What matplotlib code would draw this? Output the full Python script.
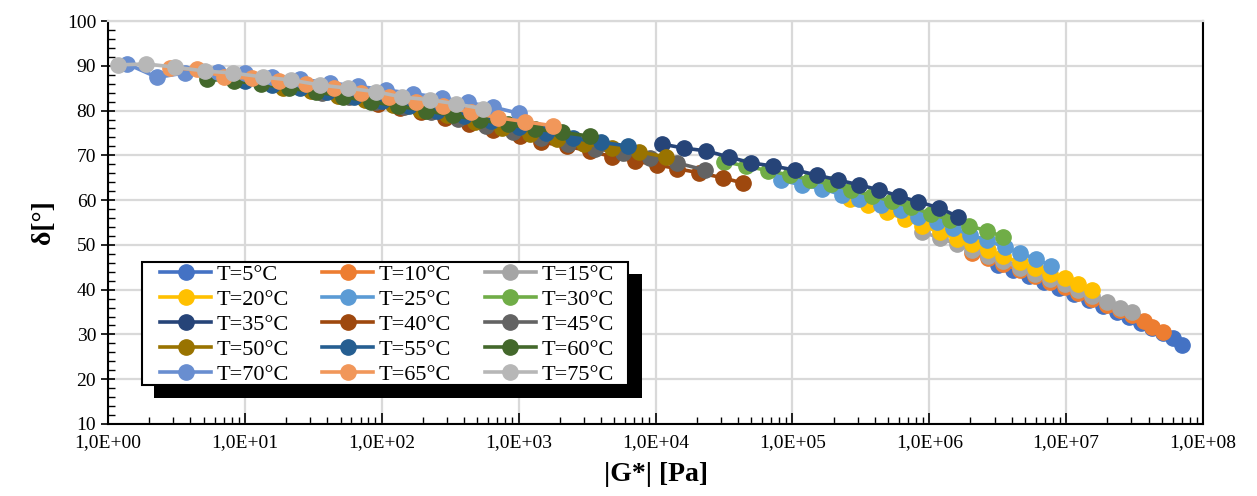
import matplotlib
matplotlib.use("Agg")
import matplotlib.pyplot as plt
from matplotlib.patches import Rectangle
from matplotlib.ticker import FuncFormatter, LogLocator, MultipleLocator
import numpy as np

plt.rcParams['font.family'] = ['Liberation Serif', 'DejaVu Serif']

# log10(|G*|) and phase angle for every temperature
lg_5 = [6.50, 6.61, 6.73, 6.84, 6.95, 7.06, 7.17, 7.27, 7.37, 7.46, 7.55, 7.63, 7.71, 7.78, 7.85]
d_5 = [45.6, 44.3, 43.0, 41.7, 40.4, 39.0, 37.7, 36.4, 35.1, 33.9, 32.6, 31.4, 30.3, 29.2, 27.7]

lg_10 = [6.31, 6.43, 6.54, 6.66, 6.77, 6.88, 6.99, 7.09, 7.19, 7.30, 7.39, 7.48, 7.57, 7.63, 7.71]
d_10 = [48.3, 47.0, 45.7, 44.4, 43.1, 41.8, 40.5, 39.2, 37.9, 36.6, 35.4, 34.3, 33.0, 31.7, 30.6]

lg_15 = [5.95, 6.08, 6.20, 6.31, 6.43, 6.54, 6.66, 6.77, 6.88, 6.99, 7.09, 7.19, 7.30, 7.39, 7.48]
d_15 = [52.9, 51.5, 50.2, 48.9, 47.6, 46.3, 44.9, 43.6, 42.4, 41.2, 39.9, 38.6, 37.3, 35.9, 35.0]

lg_20 = [5.42, 5.55, 5.69, 5.82, 5.95, 6.08, 6.20, 6.31, 6.43, 6.54, 6.66, 6.77, 6.88, 6.99, 7.09, 7.19]
d_20 = [60.2, 58.9, 57.3, 55.8, 54.3, 52.8, 51.4, 50.1, 48.8, 47.5, 46.1, 44.9, 43.6, 42.5, 41.3, 40.0]

lg_25 = [4.92, 5.07, 5.22, 5.36, 5.49, 5.65, 5.79, 5.92, 6.06, 6.17, 6.30, 6.42, 6.55, 6.66, 6.78, 6.89]
d_25 = [64.4, 63.4, 62.5, 61.2, 60.3, 58.9, 57.8, 56.3, 55.1, 53.8, 52.2, 51.1, 49.5, 48.2, 46.9, 45.3]

lg_30 = [4.50, 4.66, 4.82, 4.98, 5.13, 5.28, 5.43, 5.58, 5.73, 5.87, 6.01, 6.15, 6.29, 6.42, 6.54]
d_30 = [68.6, 67.6, 66.6, 65.6, 64.6, 63.5, 62.3, 61.0, 59.7, 58.4, 57.0, 55.6, 54.2, 53.2, 51.8]

lg_35 = [4.05, 4.21, 4.37, 4.54, 4.70, 4.86, 5.02, 5.18, 5.33, 5.49, 5.63, 5.78, 5.92, 6.07, 6.21]
d_35 = [72.5, 71.6, 71.0, 69.6, 68.3, 67.6, 66.7, 65.6, 64.5, 63.4, 62.3, 60.9, 59.6, 58.3, 56.3]

lg_40 = [1.97, 2.13, 2.29, 2.46, 2.64, 2.81, 3.01, 3.16, 3.35, 3.52, 3.68, 3.85, 4.01, 4.16, 4.32, 4.49, 4.64]
d_40 = [81.4, 80.5, 79.6, 78.3, 77.0, 75.6, 74.3, 73.0, 72.0, 71.0, 69.7, 68.7, 67.9, 67.0, 66.1, 65.0, 63.8]

lg_45 = [1.56, 1.76, 1.96, 2.16, 2.36, 2.56, 2.76, 2.96, 3.16, 3.36, 3.56, 3.76, 3.96, 4.16, 4.36]
d_45 = [83.9, 83.0, 81.9, 80.9, 79.7, 78.2, 76.6, 75.2, 73.8, 72.6, 71.5, 70.5, 69.5, 68.3, 66.7]

lg_50 = [1.28, 1.48, 1.68, 1.88, 2.08, 2.28, 2.48, 2.68, 2.88, 3.08, 3.28, 3.48, 3.68, 3.88, 4.08]
d_50 = [85.0, 84.3, 83.3, 82.3, 81.3, 80.2, 78.9, 77.5, 76.1, 74.8, 73.6, 72.6, 71.7, 70.8, 69.6]

lg_55 = [1.00, 1.20, 1.40, 1.60, 1.80, 2.00, 2.20, 2.40, 2.60, 2.80, 3.00, 3.20, 3.40, 3.60, 3.80]
d_55 = [86.5, 85.8, 85.0, 84.1, 83.1, 82.1, 81.1, 80.0, 78.8, 77.6, 76.3, 75.0, 73.8, 72.9, 72.1]

lg_60 = [0.72, 0.92, 1.12, 1.32, 1.52, 1.72, 1.92, 2.12, 2.32, 2.52, 2.72, 2.92, 3.12, 3.32, 3.52]
d_60 = [87.0, 86.6, 85.9, 85.0, 84.2, 83.1, 82.0, 81.0, 80.0, 78.9, 77.9, 76.9, 75.9, 75.1, 74.3]

lg_70 = [0.14, 0.36, 0.56, 0.80, 1.00, 1.20, 1.40, 1.62, 1.83, 2.03, 2.23, 2.44, 2.63, 2.81, 3.00]
d_70 = [90.4, 87.4, 88.4, 88.6, 88.3, 87.5, 87.0, 86.2, 85.4, 84.6, 83.8, 82.8, 81.8, 80.8, 79.4]

lg_65 = [0.45, 0.65, 0.85, 1.05, 1.25, 1.45, 1.65, 1.85, 2.05, 2.25, 2.45, 2.65, 2.85, 3.05, 3.25]
d_65 = [89.5, 89.2, 87.6, 87.2, 86.7, 86.0, 85.0, 84.0, 83.0, 81.9, 81.0, 79.6, 78.4, 77.5, 76.6]

lg_75 = [0.07, 0.28, 0.49, 0.71, 0.91, 1.13, 1.34, 1.55, 1.75, 1.96, 2.15, 2.35, 2.54, 2.74]
d_75 = [90.2, 90.4, 89.7, 88.8, 88.4, 87.5, 86.8, 85.7, 85.0, 84.2, 83.0, 82.4, 81.5, 80.4]

labels = ['T=5°C', 'T=10°C', 'T=15°C', 'T=20°C', 'T=25°C', 'T=30°C', 'T=35°C', 'T=40°C',
          'T=45°C', 'T=50°C', 'T=55°C', 'T=60°C', 'T=70°C', 'T=65°C', 'T=75°C']
series_lg = [lg_5, lg_10, lg_15, lg_20, lg_25, lg_30, lg_35, lg_40,
             lg_45, lg_50, lg_55, lg_60, lg_70, lg_65, lg_75]
series_d = [d_5, d_10, d_15, d_20, d_25, d_30, d_35, d_40,
            d_45, d_50, d_55, d_60, d_70, d_65, d_75]
colors = ['#4472C4', '#ED7D31', '#A5A5A5', '#FFC000', '#5B9BD5', '#70AD47', '#264478', '#9E480E',
          '#636363', '#997300', '#255E91', '#43682B', '#698ED0', '#F1975A', '#B7B7B7']
decades = np.arange(0, 9)

W, H = 1257, 496
fig = plt.figure(figsize=(W / 100, H / 100), dpi=100)
ax = fig.add_axes([108 / W, 1 - 424 / H, (1203 - 108) / W, (424 - 21) / H])

handles = []
for lg, d, c, lab in zip(series_lg, series_d, colors, labels):
    h, = ax.plot(10 ** np.array(lg), d, '-o', color=c, lw=2.6, ms=11, label=lab)
    handles.append(h)

ax.set_xscale('log')
ax.set_xlim(1, 1e8)
ax.set_ylim(10, 100)

# grid + ticks like the excel chart
ax.grid(True, which='major', color='#D9D9D9', lw=1.6)
ax.set_axisbelow(True)
ax.yaxis.set_major_locator(MultipleLocator(10))
ax.yaxis.set_minor_locator(MultipleLocator(2))
ax.set_xticks(10.0 ** decades)
ax.set_xticklabels(['1,0E+%02d' % k for k in decades])
ax.xaxis.set_minor_locator(LogLocator(base=10, subs=np.arange(2, 10), numticks=20))
ax.xaxis.set_minor_formatter(FuncFormatter(lambda v, p: ''))
ax.tick_params(axis='x', which='major', direction='in', length=8, width=1.2, labelsize=14, pad=7)
ax.tick_params(axis='x', which='minor', direction='in', length=5, width=1.0)
ax.tick_params(axis='y', which='major', direction='inout', length=10, width=1.2, labelsize=14)
ax.tick_params(axis='y', which='minor', direction='in', length=5, width=1.0)

for s in ['left', 'bottom', 'right']:
    ax.spines[s].set_color('black')
    ax.spines[s].set_linewidth(1.5)
ax.spines['top'].set_color('#D9D9D9')
ax.spines['top'].set_linewidth(1.6)

ax.set_xlabel('|G*| [Pa]', fontsize=20, fontweight='bold', labelpad=8)
ax.set_ylabel('δ[°]', fontsize=20, fontweight='bold', labelpad=8)

# legend box with a solid black shadow, drawn by hand
shadow = Rectangle((154 / W, 1 - 398 / H), 488 / W, 124 / H, transform=fig.transFigure,
                   facecolor='black', edgecolor='none', zorder=4.4, clip_on=False)
frame = Rectangle((142 / W, 1 - 385 / H), 486 / W, 123 / H, transform=fig.transFigure,
                  facecolor='white', edgecolor='black', lw=1.5, zorder=4.5, clip_on=False)
ax.add_patch(shadow)
ax.add_patch(frame)

# legend is filled row by row in the original
order = [0, 3, 6, 9, 12, 1, 4, 7, 10, 13, 2, 5, 8, 11, 14]
leg = ax.legend([handles[i] for i in order], [labels[i] for i in order],
                ncol=3, loc='upper left', bbox_to_anchor=(160 / W, 1 - 264 / H),
                bbox_transform=fig.transFigure, fontsize=16, frameon=False,
                handlelength=2.3, handletextpad=0.25, columnspacing=1.5,
                labelspacing=0.2, borderpad=0, borderaxespad=0)

fig.savefig('out.png', dpi=100)
